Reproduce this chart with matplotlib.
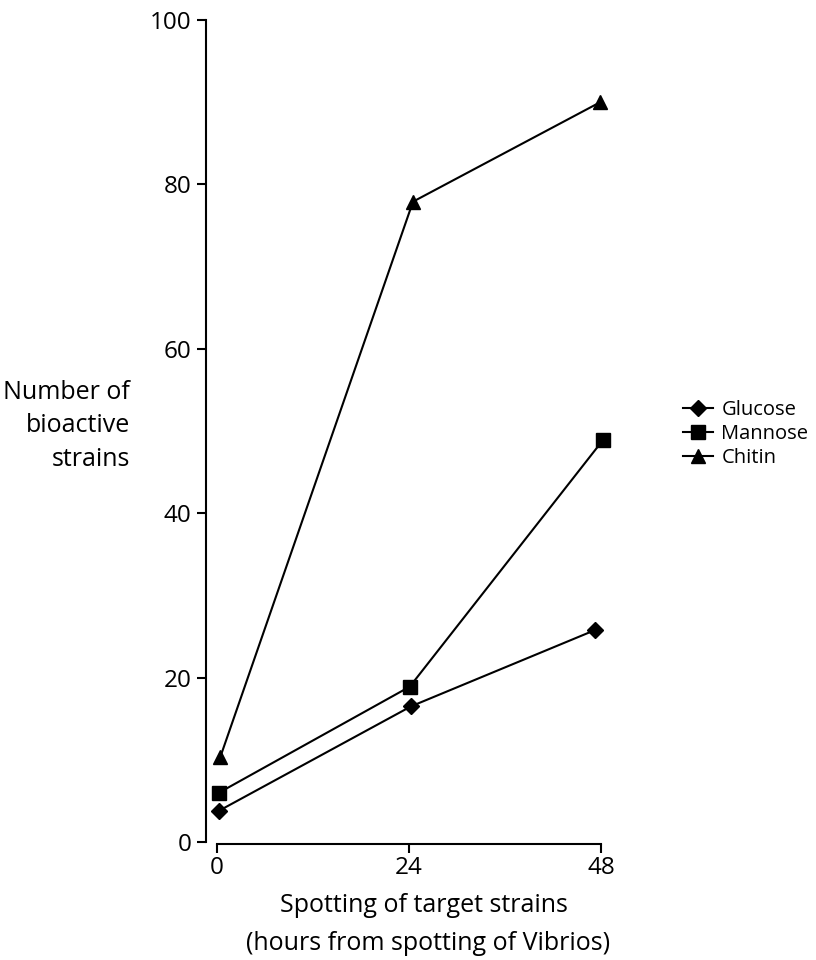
import matplotlib
matplotlib.use("Agg")
import matplotlib.pyplot as plt

plt.rcParams["font.family"] = ["Open Sans", "DejaVu Sans"]

# values (x has the small offsets seen in the original)
GLUCOSE_X = [0.25, 24.25, 47.3]
GLUCOSE_Y = [3.8, 16.5, 25.8]
MANNOSE_X = [0.25, 24.1, 48.25]
MANNOSE_Y = [6.0, 18.9, 48.9]
CHITIN_X = [0.4, 24.5, 47.9]
CHITIN_Y = [10.3, 77.9, 90.0]

X_TICKS = [0, 24, 48]
Y_TICKS = [0, 20, 40, 60, 80, 100]

FS = 18
W, H = 816, 960

fig = plt.figure(figsize=(W / 100, H / 100), dpi=100)
ax = fig.add_axes([217 / W, 1 - 842 / H, 384 / W, 822 / H])

kw = dict(color="black", lw=1.5, clip_on=False)
ax.plot(GLUCOSE_X, GLUCOSE_Y, marker="D", ms=8.5, label="Glucose", **kw)
ax.plot(MANNOSE_X, MANNOSE_Y, marker="s", ms=10.5, label="Mannose", **kw)
ax.plot(CHITIN_X, CHITIN_Y, marker="^", ms=10, label="Chitin", **kw)

ax.set_xlim(0, 48)
ax.set_ylim(0, 100)
ax.set_xticks(X_TICKS)
ax.set_yticks(Y_TICKS)

for s in ("top", "right"):
    ax.spines[s].set_visible(False)
for s in ("left", "bottom"):
    ax.spines[s].set_linewidth(1.5)
ax.spines["left"].set_position(("outward", 8))
ax.spines["bottom"].set_position(("outward", 1.5))
ax.tick_params(axis="both", length=6.5, width=1.5, labelsize=17.5)
ax.tick_params(axis="y", pad=4)
ax.tick_params(axis="x", pad=2)

ax.legend(loc="center left", bbox_to_anchor=(683 / W, 1 - 434 / H),
          bbox_transform=fig.transFigure, frameon=False, fontsize=14.5,
          handlelength=1.5, handletextpad=0.4, labelspacing=0.2,
          borderaxespad=0, borderpad=0)

fig.text(130 / W, 1 - 426 / H, "Number of\nbioactive\nstrains",
         ha="right", va="center", fontsize=FS, linespacing=1.45)
fig.text(424 / W, 1 - 905 / H, "Spotting of target strains",
         ha="center", va="center", fontsize=FS)
fig.text(428 / W, 1 - 944 / H, "(hours from spotting of Vibrios)",
         ha="center", va="center", fontsize=FS)

fig.savefig("out.png", dpi=100)
